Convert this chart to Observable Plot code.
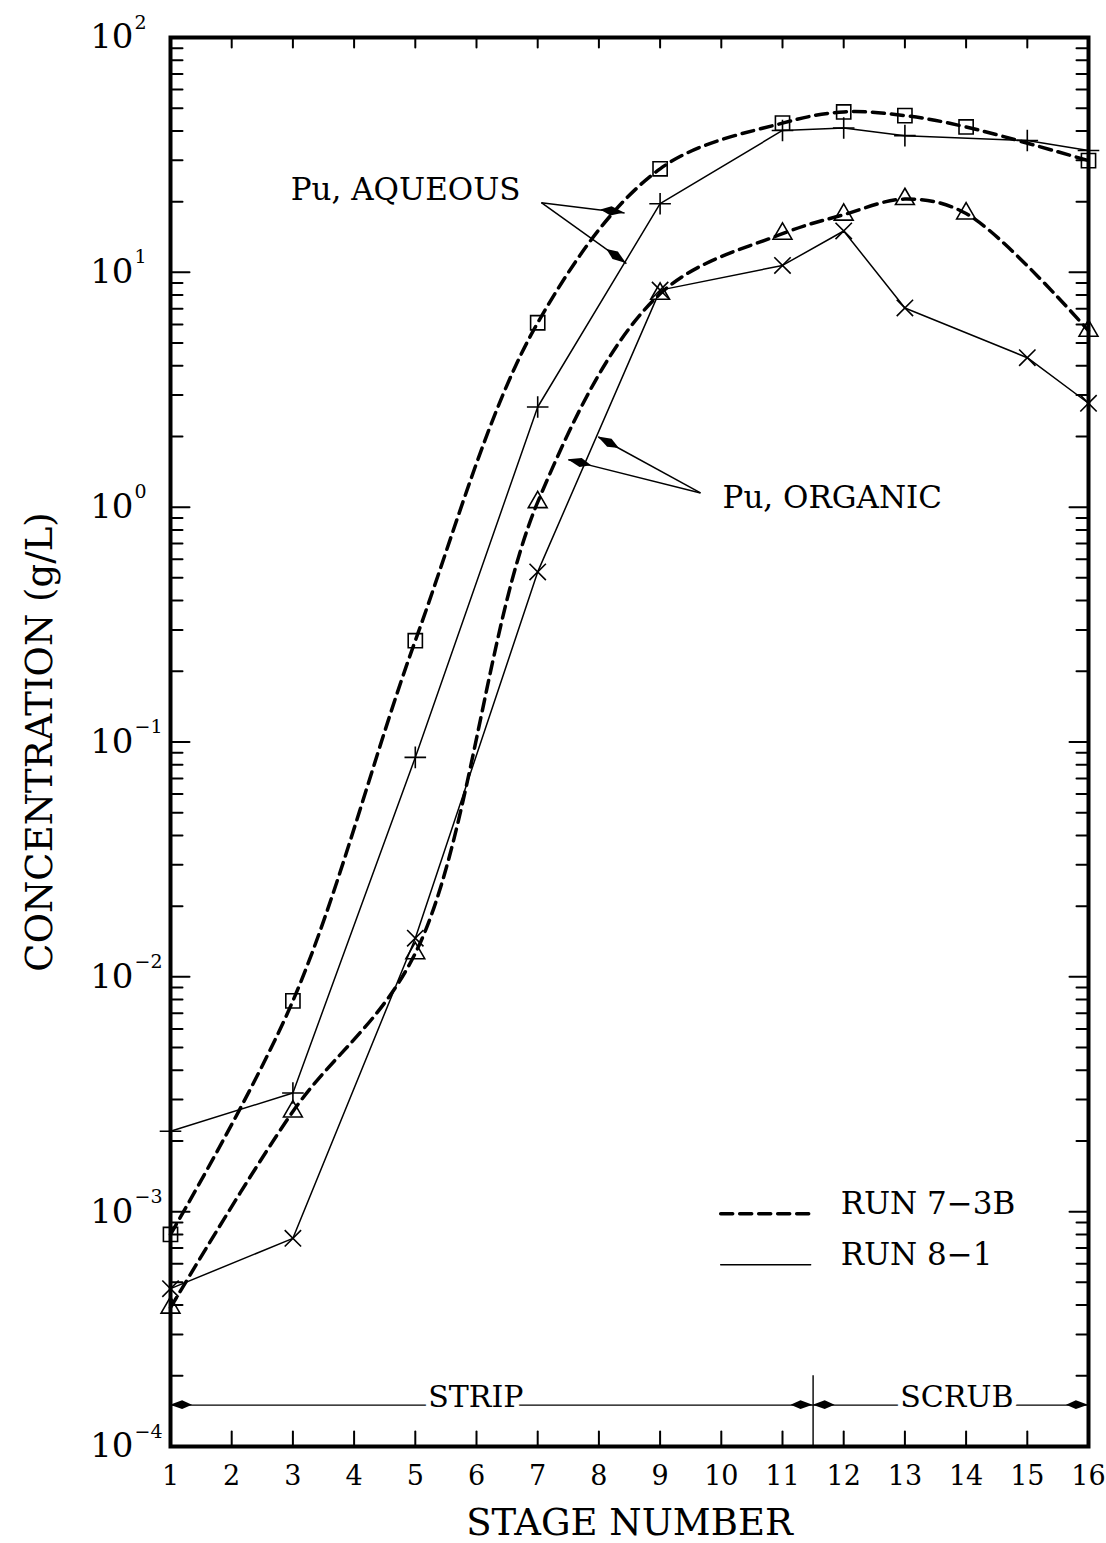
<!DOCTYPE html>
<html><head><meta charset="utf-8">
<script src="https://cdn.jsdelivr.net/npm/d3@7"></script>
<script src="https://cdn.jsdelivr.net/npm/@observablehq/plot@0.6"></script>
<style>body{margin:0;background:#fff} #chart svg{display:block}</style>
</head><body><div id="chart"></div>
<script>
// ---- data ----
const stages = [1,2,3,4,5,6,7,8,9,10,11,12,13,14,15,16];
// RUN 7-3B, Pu aqueous (squares, dashed)
const aq73Stages = [1,3,5,7,9,11,12,13,14,16];
const aq73Values = [8.0e-4, 7.9e-3, 0.27, 6.1, 27.6, 43.2, 48.2, 46.5, 41.6, 29.9];
// RUN 8-1, Pu aqueous (plus, solid)
const aq81Stages = [1,3,5,7,9,11,12,13,15,16];
const aq81Values = [2.2e-3, 3.2e-3, 0.086, 2.67, 19.6, 40.2, 41.2, 38.2, 36.4, 33.0];
// RUN 7-3B, Pu organic (triangles, dashed)
const org73Stages = [1,3,5,7,9,11,12,13,14,16];
const org73Values = [3.9e-4, 2.67e-3, 0.0126, 1.05, 8.1, 14.6, 17.6, 20.5, 17.8, 5.64];
// RUN 8-1, Pu organic (times, solid)
const org81Stages = [1,3,5,7,9,11,12,13,15,16];
const org81Values = [4.7e-4, 7.7e-4, 0.0146, 0.53, 8.4, 10.7, 15.0, 7.05, 4.33, 2.77];

const yMajor = [1e-4, 1e-3, 1e-2, 1e-1, 1, 10, 100];
const yExponents = ["\u22124", "\u22123", "\u22122", "\u22121", "0", "1", "2"];
const legendLabels = ["RUN 7\u22123B", "RUN 8\u22121"];
const sectionLabels = ["STRIP", "SCRUB"];

// annotation geometry (data units: stage, g/L)
const pointerArrows = [
  {x1: 7.06, y1: 19.8, x2: 8.42, y2: 17.9},
  {x1: 7.06, y1: 19.8, x2: 8.45, y2: 10.9},
  {x1: 9.66, y1: 1.15, x2: 7.99, y2: 1.99},
  {x1: 9.66, y1: 1.15, x2: 7.50, y2: 1.59}
];
const aqueousLabel = [{x: 6.72, y: 22.3, text: "Pu, AQUEOUS"}];
const organicLabel = [{x: 10.02, y: 1.094, text: "Pu, ORGANIC"}];
const sectionLevel = 1.5e-4;
const sectionDivider = 11.5;
const sectionArrows = [
  {x1: 6, y1: 1.5e-4, x2: 1, y2: 1.5e-4}, {x1: 6, y1: 1.5e-4, x2: 11.5, y2: 1.5e-4},
  {x1: 13.8, y1: 1.5e-4, x2: 11.5, y2: 1.5e-4}, {x1: 13.8, y1: 1.5e-4, x2: 16, y2: 1.5e-4}
];
const sectionTextX = [5.99, 13.85];
const legendX = [9.99, 11.46];
const legendY = [9.8e-4, 5.94e-4];
const legendTextY = [1.08e-3, 6.56e-4];
const legendTextX = 11.95;

// ---- derived tables ----
const mk = (s, v) => s.map((st, i) => ({stage: st, value: v[i]}));
const aq73 = mk(aq73Stages, aq73Values);
const aq81 = mk(aq81Stages, aq81Values);
const org73 = mk(org73Stages, org73Values);
const org81 = mk(org81Stages, org81Values);
const yMinor = yMajor.slice(0, -1).flatMap(d => d3.range(2, 10).map(k => k * d));
const innerStages = stages.slice(1, -1);

const shapeRight = {draw(c, l) { c.moveTo(0, 0); c.lineTo(l, 0); }};
const shapeLeft = {draw(c, l) { c.moveTo(0, 0); c.lineTo(-l, 0); }};
const shapeDown = {draw(c, l) { c.moveTo(0, 0); c.lineTo(0, l); }};
const shapeUp = {draw(c, l) { c.moveTo(0, 0); c.lineTo(0, -l); }};

// filled spindle arrowheads, placed through the plot's scales
function filledHeads(arrows, len, hw) {
  return (index, scales) => {
    const g = d3.create("svg:g");
    for (const a of arrows) {
      const x1 = scales.x(a.x1), y1 = scales.y(a.y1), x2 = scales.x(a.x2), y2 = scales.y(a.y2);
      const L = Math.hypot(x2 - x1, y2 - y1), ux = (x2 - x1) / L, uy = (y2 - y1) / L;
      const mx = x2 - ux * len * 0.55, my = y2 - uy * len * 0.55;
      const tx = x2 - ux * len, ty = y2 - uy * len;
      const p = [[x2, y2], [mx - uy * hw, my + ux * hw], [tx, ty], [mx + uy * hw, my - ux * hw]];
      g.append("path").attr("d", "M" + p.map(q => q.join(",")).join("L") + "Z").attr("fill", "black");
    }
    return g.node();
  };
}

const dash = "12,7";
const font = "DejaVu Serif";

const chart = Plot.plot({
  width: 1106,
  height: 1543,
  marginLeft: 170,
  marginRight: 18,
  marginTop: 37,
  marginBottom: 97,
  style: {fontFamily: font, background: "white", color: "black"},
  x: {domain: [1, 16], axis: null},
  y: {type: "log", domain: [1e-4, 1e2], axis: null},
  marks: [
    // ticks, inward
    Plot.vector(yMinor, {y: d => d, frameAnchor: "left", length: 12, shape: shapeRight, anchor: "start", stroke: "black", strokeWidth: 2}),
    Plot.vector(yMajor, {y: d => d, frameAnchor: "left", length: 19, shape: shapeRight, anchor: "start", stroke: "black", strokeWidth: 2}),
    Plot.vector(yMinor, {y: d => d, frameAnchor: "right", length: 12, shape: shapeLeft, anchor: "start", stroke: "black", strokeWidth: 2}),
    Plot.vector(yMajor, {y: d => d, frameAnchor: "right", length: 19, shape: shapeLeft, anchor: "start", stroke: "black", strokeWidth: 2}),
    Plot.vector(innerStages, {x: d => d, frameAnchor: "top", length: 10, shape: shapeDown, anchor: "start", stroke: "black", strokeWidth: 2}),
    Plot.vector(innerStages, {x: d => d, frameAnchor: "bottom", length: 15, shape: shapeUp, anchor: "start", stroke: "black", strokeWidth: 2}),

    // y tick labels
    Plot.text(yMajor, {y: d => d, frameAnchor: "left", text: () => "10", textAnchor: "end", dx: -37, fontSize: 34}),
    Plot.text(yMajor, {y: d => d, frameAnchor: "left", text: (d, i) => yExponents[i], textAnchor: "start", dx: -36, dy: -15, fontSize: 19}),
    // x tick labels
    Plot.text(stages, {x: d => d, frameAnchor: "bottom", text: d => String(d), lineAnchor: "middle", dy: 30, fontSize: 27}),
    Plot.text(["STAGE NUMBER"], {frameAnchor: "bottom", textAnchor: "middle", lineAnchor: "middle", dy: 77, fontSize: 37}),
    Plot.text(["CONCENTRATION (g/L)"], {frameAnchor: "left", textAnchor: "middle", lineAnchor: "middle", rotate: -90, dx: -130, fontSize: 37}),

    // data lines
    Plot.line(aq73, {x: "stage", y: "value", stroke: "black", strokeWidth: 3.5, strokeDasharray: dash, curve: "catmull-rom"}),
    Plot.line(org73, {x: "stage", y: "value", stroke: "black", strokeWidth: 3.5, strokeDasharray: dash, curve: "catmull-rom"}),
    Plot.line(aq81, {x: "stage", y: "value", stroke: "black", strokeWidth: 1.5}),
    Plot.line(org81, {x: "stage", y: "value", stroke: "black", strokeWidth: 1.5}),
    // markers
    Plot.dot(aq73, {x: "stage", y: "value", symbol: "square", r: 8, fill: "none", stroke: "black", strokeWidth: 1.6}),
    Plot.dot(org73, {x: "stage", y: "value", symbol: "triangle", r: 7, fill: "none", stroke: "black", strokeWidth: 1.6}),
    Plot.dot(aq81, {x: "stage", y: "value", symbol: "plus", r: 7, fill: "none", stroke: "black", strokeWidth: 1.6}),
    Plot.dot(org81, {x: "stage", y: "value", symbol: "times", r: 7.5, fill: "none", stroke: "black", strokeWidth: 1.6}),

    // annotations
    Plot.link(pointerArrows, {x1: "x1", y1: "y1", x2: "x2", y2: "y2", stroke: "black", strokeWidth: 1.5}),
    filledHeads(pointerArrows, 24, 4.6),
    Plot.text(aqueousLabel, {x: "x", y: "y", text: "text", textAnchor: "end", fontSize: 31}),
    Plot.text(organicLabel, {x: "x", y: "y", text: "text", textAnchor: "start", fontSize: 31}),

    // strip / scrub
    Plot.link(sectionArrows, {x1: "x1", y1: "y1", x2: "x2", y2: "y2", stroke: "black", strokeWidth: 1.4}),
    filledHeads(sectionArrows, 22, 4.4),
    Plot.ruleX([sectionDivider], {y1: 2e-4, y2: 1e-4, stroke: "black", strokeWidth: 1.4}),
    Plot.text(sectionLabels, {x: (d, i) => sectionTextX[i], y: () => sectionLevel, text: d => d, lineAnchor: "bottom", dy: 2, fontSize: 30, stroke: "white", strokeWidth: 10, fill: "black"}),

    // legend
    Plot.line(legendX, {x: d => d, y: () => legendY[0], stroke: "black", strokeWidth: 3.5, strokeDasharray: dash}),
    Plot.line(legendX, {x: d => d, y: () => legendY[1], stroke: "black", strokeWidth: 1.5}),
    Plot.text(legendLabels, {x: () => legendTextX, y: (d, i) => legendTextY[i], text: d => d, textAnchor: "start", fontSize: 31}),

    Plot.frame({stroke: "black", strokeWidth: 4})
  ]
});
document.getElementById("chart").appendChild(chart);
</script>
</body></html>
